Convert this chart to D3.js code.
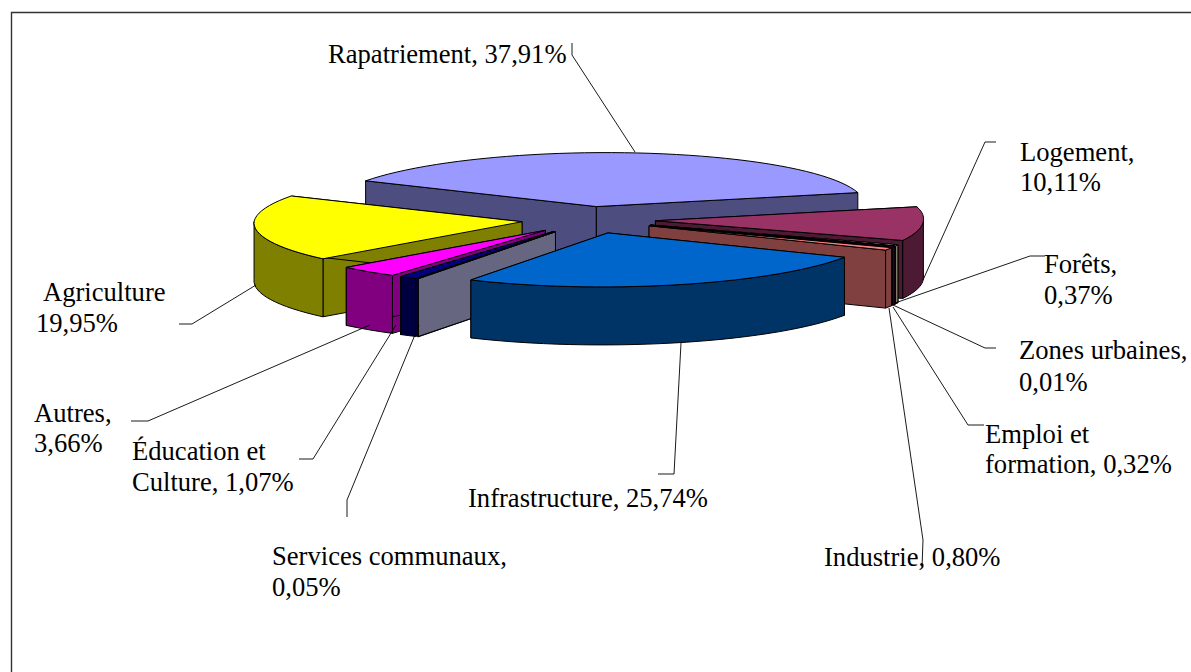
<!DOCTYPE html>
<html lang="fr">
<head>
    <meta charset="UTF-8">
    <title>Répartition par secteur</title>
    <script src="https://d3js.org/d3.v7.min.js"></script>
    <style>
        html, body { margin: 0; padding: 0; background: #fff; overflow: hidden; }
        text { font-family: "Liberation Serif", serif; font-size: 26.6px; fill: #000; }
    </style>
</head>
<body>
    <div id="chart"></div>
    <script>
        // values, clockwise from the start of the big slice
        const categories = ["Rapatriement", "Logement", "Forêts", "Zones urbaines", "Emploi et formation", "Industrie",
            "Infrastructure", "Services communaux", "Éducation et Culture", "Autres", "Agriculture"];
        const shares = [37.91, 10.11, 0.37, 0.01, 0.32, 0.80, 25.74, 0.05, 1.07, 3.66, 19.95];
        const topColors = ["#9999FF", "#993366", "#FFFFCC", "#CCFFFF", "#660066", "#FF8080",
            "#0066CC", "#CCCCFF", "#000080", "#FF00FF", "#FFFF00"];
        const labelLines = [
            ["Rapatriement, 37,91%"], ["Logement,", "10,11%"], ["Forêts,", "0,37%"], ["Zones urbaines,", "0,01%"],
            ["Emploi et", "formation, 0,32%"], ["Industrie, 0,80%"], ["Infrastructure, 25,74%"],
            ["Services communaux,", "0,05%"], ["Éducation et", "Culture, 1,07%"], ["Autres,", "3,66%"], ["Agriculture", "19,95%"]
        ];

        // label anchors and leader lines, page pixels
        const labelPos = [
            [[328, 63]], [[1020, 161], [1020, 191]], [[1044, 273], [1044, 304]], [[1019, 359], [1019, 391]],
            [[985, 443], [985, 473]], [[824, 566]], [[468, 507]],
            [[272, 565], [272, 596]], [[132, 460], [132, 491]], [[34, 422], [34, 452]], [[43, 301], [36, 332]]
        ];
        const leaders = [
            [[635, 152], [572, 55], [572, 43]],
            [[923, 280], [985, 142], [996, 142]],
            [[895, 303], [1030, 256], [1045, 256]],
            [[893, 305], [985, 348], [996, 348]],
            [[893, 307], [968, 425], [984, 425]],
            [[889, 308], [923, 540], [922, 568]],
            [[681, 343], [674, 474], [658, 474]],
            [[419, 325], [347, 500], [347, 517]],
            [[396, 325], [313, 459], [299, 459]],
            [[370, 325], [148, 421], [131, 421]],
            [[256, 285], [192, 324], [179, 324]]
        ];

        const width = 1191, height = 672;
        const centerX = 588.5, centerY = 220;
        const radiusX = 268, radiusY = 54;
        const explode = 0.25;   // fraction of the radius
        const depth = 58;
        const skewFront = 6, skewBack = 10;  // the pie is turned a little, not a true ellipse
        const startDeg = -61.5;

        const x = d3.scaleLinear().domain([-1, 1]).range([centerX - radiusX, centerX + radiusX]);
        const y = d3.scaleLinear().domain([-1, 1]).range([centerY - radiusY, centerY + radiusY]);
        const line = d3.line().x(d => d[0]).y(d => d[1]);

        const start = startDeg * Math.PI / 180;
        const slices = d3.pie().sort(null).startAngle(start).endAngle(start + 2 * Math.PI)(shares);

        const svg = d3.select("#chart").append("svg")
            .attr("width", width)
            .attr("height", height);

        // frame
        svg.append("path").attr("d", line([[11.5, height], [11.5, 12.5], [width, 12.5]]))
            .attr("fill", "none").attr("stroke", "#333").attr("stroke-width", 1.4);

        function apex(s, lift) {
            const mid = (s.startAngle + s.endAngle) / 2;
            return [x(explode * Math.sin(mid)), y(-explode * Math.cos(mid)) + lift];
        }

        function rimPoint(s, a, lift) {
            const mid = (s.startAngle + s.endAngle) / 2;
            const v = -Math.cos(a);
            return [x(explode * Math.sin(mid) + Math.sin(a)) - (v > 0 ? skewFront : skewBack) * v,
                    y(-explode * Math.cos(mid) + v) + lift];
        }

        function rim(s, from, to, lift) {
            const n = Math.max(1, Math.ceil((to - from) / 0.05));
            return d3.range(n + 1).map(i => rimPoint(s, from + (to - from) * i / n, lift));
        }

        function sideColor(c) {
            const r = d3.rgb(c);
            return d3.rgb(r.r / 2, r.g / 2, r.b / 2).formatHex();
        }

        function face(g, pts, fill) {
            g.append("path")
                .attr("d", line(pts) + "Z")
                .attr("fill", fill)
                .attr("stroke", "#000")
                .attr("stroke-width", 1)
                .attr("stroke-linejoin", "round");
        }

        // back to front
        const drawOrder = [0, 1, 2, 3, 4, 5, 10, 9, 8, 7, 6];
        drawOrder.forEach(i => {
            const s = slices[i];
            const g = svg.append("g").attr("class", "slice");
            const side = sideColor(topColors[i]);

            // radial faces
            [s.startAngle, s.endAngle].forEach(a => {
                face(g, [apex(s, 0), rimPoint(s, a, 0), rimPoint(s, a, depth), apex(s, depth)], side);
            });

            // outer wall, front half only
            const from = Math.max(s.startAngle, Math.PI / 2);
            const to = Math.min(s.endAngle, 3 * Math.PI / 2);
            if (to > from) {
                face(g, rim(s, from, to, 0).concat(rim(s, from, to, depth).reverse()), side);
            }

            face(g, [apex(s, 0)].concat(rim(s, s.startAngle, s.endAngle, 0)), topColors[i]);
        });

        // leader lines
        svg.selectAll(".leader")
            .data(leaders)
            .enter().append("path")
            .attr("class", "leader")
            .attr("d", d => line(d))
            .attr("fill", "none")
            .attr("stroke", "#000")
            .attr("stroke-width", 0.9);

        // labels
        labelLines.forEach((lines, i) => {
            lines.forEach((t, j) => {
                svg.append("text")
                    .attr("x", labelPos[i][j][0])
                    .attr("y", labelPos[i][j][1])
                    .text(t);
            });
        });
    </script>
</body>
</html>
